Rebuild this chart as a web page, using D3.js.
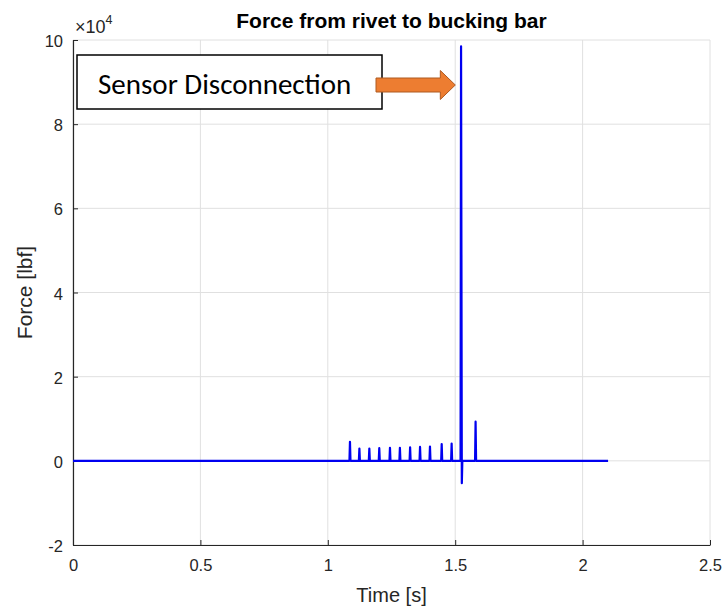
<!DOCTYPE html>
<html><head><meta charset="utf-8">
<script src="https://cdn.jsdelivr.net/npm/d3@7"></script>
<style>body{margin:0;background:#fff}svg{display:block}</style>
</head><body><svg id="c" width="726" height="607"></svg>
<script>
// ---- data ----
const xTicks = [0, 0.5, 1, 1.5, 2, 2.5];
const yTicks = [-2, 0, 2, 4, 6, 8, 10];           // in units of 10^4 lbf
const spikeTimes = [1.087, 1.124, 1.163, 1.202, 1.244, 1.283, 1.323, 1.362, 1.401, 1.447, 1.486, 1.580];
const spikePeaks = [4500, 2900, 2900, 3000, 3100, 3100, 3200, 3300, 3400, 4000, 4100, 9300];
const bigSpikeTime = 1.524;
const bigSpikeHigh = 98500;
const bigSpikeLow = -5300;
const timeRange = [0, 2.1];

const W = 726, H = 607;
const m = {l: 73, r: 16, t: 40, b: 62};
const svg = d3.select("#c");
const x = d3.scaleLinear().domain([0, 2.5]).range([m.l, W - m.r]);
const y = d3.scaleLinear().domain([-2e4, 10e4]).range([H - m.b, m.t]);

// build line points
let pts = [[timeRange[0], 0]];
const spikes = spikeTimes.map((t, i) => ({t, v: spikePeaks[i]}));
spikes.push({t: bigSpikeTime, v: bigSpikeHigh, low: bigSpikeLow});
spikes.sort((a, b) => a.t - b.t);
spikes.forEach(s => {
  if (s.low !== undefined) {
    pts.push([s.t - 0.003, 0], [s.t - 0.001, s.v], [s.t + 0.002, s.low], [s.t + 0.004, 0]);
  } else {
    pts.push([s.t - 0.002, 0], [s.t, s.v], [s.t + 0.002, 0]);
  }
});
pts.push([timeRange[1], 0]);

const font = "'Liberation Sans', Arial, Helvetica, sans-serif";

// grid
const g = svg.append("g");
g.selectAll("line.gx").data(xTicks).join("line")
  .attr("x1", d => x(d)).attr("x2", d => x(d))
  .attr("y1", y(-2e4)).attr("y2", y(10e4))
  .attr("stroke", "#e0e0e0").attr("stroke-width", 1);
g.selectAll("line.gy").data(yTicks).join("line")
  .attr("y1", d => y(d * 1e4)).attr("y2", d => y(d * 1e4))
  .attr("x1", x(0)).attr("x2", x(2.5))
  .attr("stroke", "#e0e0e0").attr("stroke-width", 1);

// axes
const xAxis = d3.axisBottom(x).tickValues(xTicks).tickSizeInner(-5).tickSizeOuter(0).tickPadding(14)
  .tickFormat(d => d3.format("")(d));
const xg = svg.append("g").attr("transform", `translate(0,${y(-2e4)})`).call(xAxis);
const yAxis = d3.axisLeft(y).tickValues(yTicks.map(d => d * 1e4)).tickSizeInner(-5).tickSizeOuter(0).tickPadding(10)
  .tickFormat(d => d / 1e4);
const yg = svg.append("g").attr("transform", `translate(${x(0)},0)`).call(yAxis);
[xg, yg].forEach(a => {
  a.select(".domain").attr("stroke", "#262626").attr("stroke-width", 1.2);
  a.selectAll(".tick line").attr("stroke", "#262626");
  a.selectAll(".tick text").attr("fill", "#262626").style("font-family", font).style("font-size", "16.5px");
});
yg.selectAll(".tick text").attr("dy", "0.4em");

// data line
svg.append("path").datum(pts)
  .attr("fill", "none").attr("stroke", "#0000f0").attr("stroke-width", 2.2)
  .attr("stroke-linejoin", "round")
  .attr("d", d3.line().x(d => x(d[0])).y(d => y(d[1])));

// exponent label
const ex = svg.append("text").attr("x", x(0) + 2).attr("y", y(10e4) - 7)
  .style("font-family", font).style("font-size", "18px").attr("fill", "#262626");
ex.append("tspan").text("\u00d710");
ex.append("tspan").attr("dy", -9).style("font-size", "12.5px").text("4");

// title
svg.append("text").attr("x", (x(0) + x(2.5)) / 2).attr("y", 28).attr("text-anchor", "middle")
  .style("font-family", font).style("font-size", "21px").style("font-weight", "bold").attr("fill", "#000")
  .text("Force from rivet to bucking bar");

// axis labels
svg.append("text").attr("x", (x(0) + x(2.5)) / 2).attr("y", 602).attr("text-anchor", "middle")
  .style("font-family", font).style("font-size", "20px").attr("fill", "#262626").text("Time [s]");
svg.append("text").attr("transform", `translate(32,${y(4e4)}) rotate(-90)`).attr("text-anchor", "middle")
  .style("font-family", font).style("font-size", "21px").attr("fill", "#262626").text("Force [lbf]");

// annotation
svg.append("rect").attr("x", 77).attr("y", 55).attr("width", 305).attr("height", 54)
  .attr("fill", "#fff").attr("stroke", "#000").attr("stroke-width", 1.5);
svg.append("text").attr("x", 98).attr("y", 94)
  .style("font-family", "Carlito, Lato, 'Open Sans', sans-serif").style("font-size", "29px").attr("fill", "#000")
  .text("Sensor Disconnection");
const ax0 = 376, axTip = x(bigSpikeTime) - 6, ay = 85;
svg.append("path")
  .attr("d", `M${ax0},${ay - 7}H${axTip - 15}V${ay - 14.5}L${axTip},${ay}L${axTip - 15},${ay + 14.5}V${ay + 7}H${ax0}Z`)
  .attr("fill", "#ed7d31").attr("stroke", "#ae5a21").attr("stroke-width", 1);
</script></body></html>
